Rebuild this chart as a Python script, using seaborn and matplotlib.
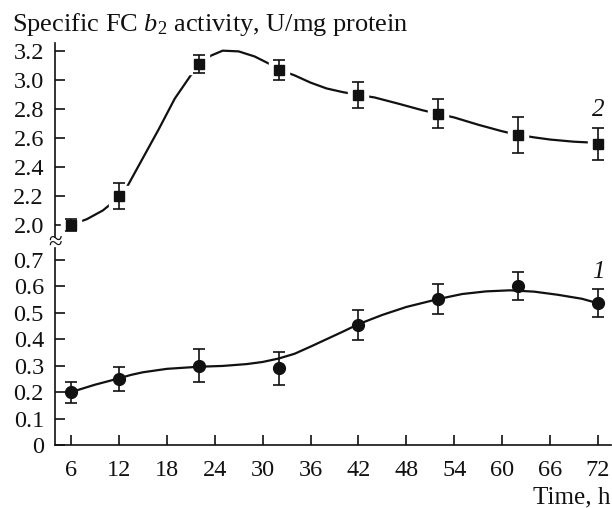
import matplotlib
matplotlib.use("Agg")
import matplotlib.pyplot as plt
import seaborn as sns
import pandas as pd

# measured points
time_h = [6, 12, 22, 32, 42, 52, 62, 72]
activity_1 = [0.20, 0.25, 0.30, 0.29, 0.455, 0.552, 0.603, 0.537]
err_1 = [0.04, 0.045, 0.063, 0.062, 0.057, 0.056, 0.053, 0.053]
activity_2 = [2.00, 2.20, 3.11, 3.065, 2.895, 2.765, 2.62, 2.558]
err_2 = [0.04, 0.09, 0.062, 0.07, 0.092, 0.10, 0.122, 0.11]

# fitted curves
curve1_t = [6, 9, 12, 13.5, 15, 18, 22, 25, 28, 30, 32, 34, 36, 38, 40, 42, 45, 48, 52, 55, 58,
            61, 64, 67, 70, 72]
curve1_v = [0.20, 0.228, 0.252, 0.265, 0.275, 0.288, 0.296, 0.299, 0.306, 0.314, 0.327, 0.345,
            0.372, 0.40, 0.428, 0.457, 0.492, 0.522, 0.552, 0.571, 0.581, 0.585, 0.58, 0.568,
            0.553, 0.536]
curve2_t = [6, 8, 10, 11, 12, 13, 15, 17, 19, 21, 22, 23.5, 25, 27, 29, 31, 32, 34, 36, 38, 40,
            42, 44, 47, 50, 52, 54, 57, 60, 62, 64, 66, 69, 72]
curve2_v = [2.00, 2.04, 2.10, 2.145, 2.195, 2.26, 2.46, 2.66, 2.87, 3.03, 3.095, 3.165, 3.20,
            3.195, 3.16, 3.105, 3.07, 3.03, 2.98, 2.94, 2.915, 2.895, 2.878, 2.835, 2.79, 2.765,
            2.74, 2.69, 2.645, 2.62, 2.603, 2.588, 2.573, 2.565]

x_ticks = [6, 12, 18, 24, 30, 36, 42, 48, 54, 60, 66, 72]
low_ticks = [0, 0.1, 0.2, 0.3, 0.4, 0.5, 0.6, 0.7]
low_labels = ["0", "0.1", "0.2", "0.3", "0.4", "0.5", "0.6", "0.7"]
up_ticks = [2.0, 2.2, 2.4, 2.6, 2.8, 3.0, 3.2]
up_labels = ["2.0", "2.2", "2.4", "2.6", "2.8", "3.0", "3.2"]

sns.set_style("ticks")
plt.rcParams['font.family'] = ['Liberation Serif', 'DejaVu Serif']
plt.rcParams['mathtext.fontset'] = 'custom'
plt.rcParams['mathtext.rm'] = 'Liberation Serif'
plt.rcParams['mathtext.it'] = 'Liberation Serif:italic'

ink = "#111111"
fig = plt.figure(figsize=(6.12, 5.08), dpi=100)
ax_up = fig.add_axes([0.0899, 0.5335, 0.908, 0.3825])
ax_lo = fig.add_axes([0.0899, 0.1240, 0.908, 0.3878])

c1 = pd.DataFrame({"t": curve1_t, "v": curve1_v})
c2 = pd.DataFrame({"t": curve2_t, "v": curve2_v})
sns.lineplot(data=c1, x="t", y="v", ax=ax_lo, color=ink, lw=1.6, zorder=1)
sns.lineplot(data=c2, x="t", y="v", ax=ax_up, color=ink, lw=1.6, zorder=1)

# white halo around the squares, like the original
ax_up.plot(time_h, activity_2, ls="none", marker="s", ms=14, mfc="white", mec="white", zorder=2)
ax_up.errorbar(time_h, activity_2, yerr=err_2, fmt="s", ms=7.5, color=ink, ecolor=ink,
               elinewidth=1.2, capsize=4, capthick=1.2, zorder=3)
ax_lo.errorbar(time_h, activity_1, yerr=err_1, fmt="o", ms=8.5, color=ink, ecolor=ink,
               elinewidth=1.2, capsize=4, capthick=1.2, zorder=3)

for ax in (ax_up, ax_lo):
    ax.set_xlim(4.0, 73.6)
    ax.set_xlabel("")
    ax.set_ylabel("")
    ax.spines["top"].set_visible(False)
    ax.spines["right"].set_visible(False)
    ax.spines["left"].set_linewidth(1.2)
    ax.spines["left"].set_color(ink)
    ax.tick_params(direction="in", length=7, width=1.2, color=ink, labelsize=17.5,
                   labelcolor=ink, pad=8)
    ax.patch.set_alpha(0)

ax_up.spines["bottom"].set_visible(False)
ax_up.set_xticks([])
ax_up.set_ylim(1.917, 3.255)
ax_up.set_yticks(up_ticks)
ax_up.set_yticklabels(up_labels)

ax_lo.spines["bottom"].set_linewidth(1.2)
ax_lo.spines["bottom"].set_color(ink)
ax_lo.set_ylim(0, 0.745)
ax_lo.set_yticks(low_ticks)
ax_lo.set_yticklabels(low_labels)
ax_lo.set_xticks(x_ticks)
ax_lo.set_xticklabels([str(t) for t in x_ticks])
ax_lo.tick_params(axis="x", pad=11)

ax_up.text(72, 2.79, "2", ha="center", va="center", fontsize=18, style="italic", color=ink)
ax_lo.text(72, 0.656, "1", ha="center", va="center", fontsize=18, style="italic", color=ink)

fig.text(0.0899, 1 - 243 / 508, "\u2248", ha="center", va="center", fontsize=18,
         color=ink, rotation=0)
fig.text(0.020, 0.9396, "Specific FC $b_2$ activity, U/mg protein", ha="left",
         va="baseline", fontsize=19, color=ink)
fig.text(0.998, 1 - 503 / 508, "Time, h", ha="right", va="baseline", fontsize=18, color=ink)

fig.savefig("out.png", dpi=100)
